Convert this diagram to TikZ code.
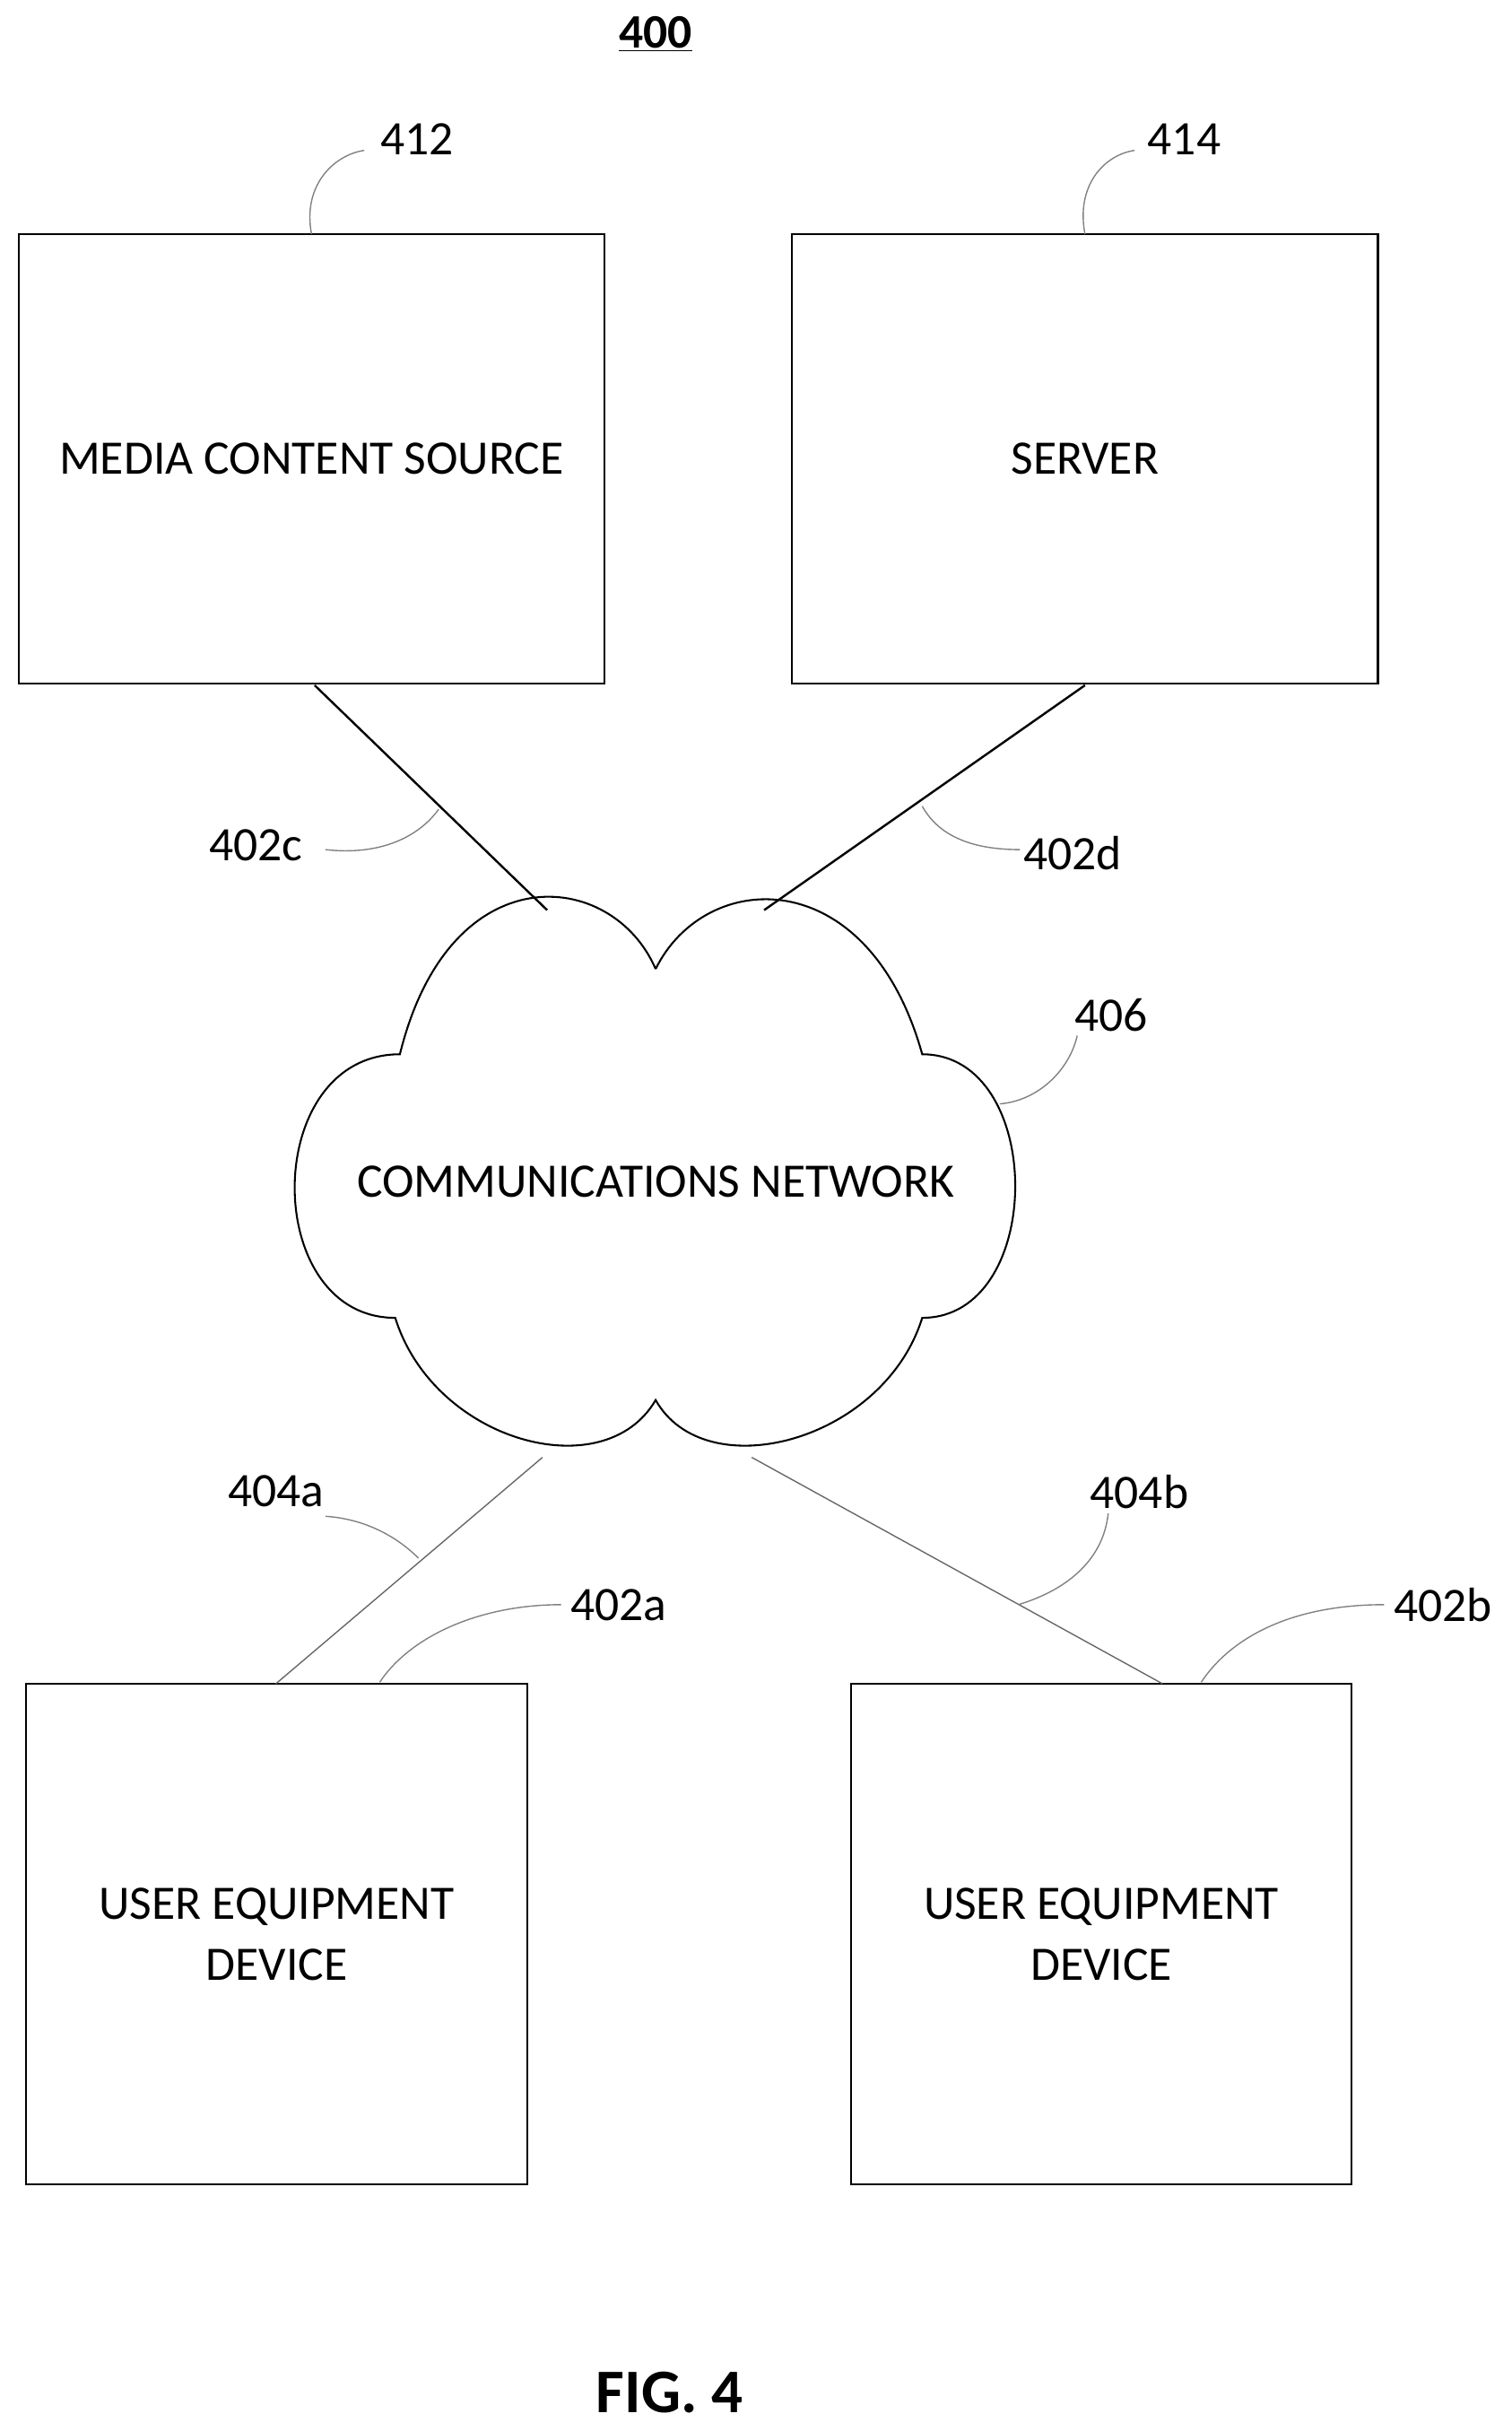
\documentclass[tikz,border=0pt]{standalone}
\usepackage{fontspec}
\setmainfont{Carlito}
\begin{document}
\begin{tikzpicture}[x=1pt,y=-1pt,
 box/.style={draw,line width=1.2pt,inner sep=0pt},
 lbl/.style={font=\fontsize{31}{39}\selectfont},
 lead/.style={draw=gray,line width=0.8pt},
 conn/.style={line width=1.4pt},
 thin/.style={draw=gray!80!black,line width=0.8pt}]
\useasboundingbox (0,0) rectangle (975,1568);
\node[font=\bfseries\fontsize{31}{36}\selectfont] (t) at (423,22) {\underline{400}};
\node[box,minimum width=378pt,minimum height=290pt,lbl] (mcs) at (201,296) {MEDIA CONTENT SOURCE};
\node[box,minimum width=378pt,minimum height=290pt,lbl] (srv) at (700,296) {SERVER};
\node[box,minimum width=323pt,minimum height=323pt,lbl,align=center] (ue1) at (178.5,1247.5) {USER EQUIPMENT\\DEVICE};
\node[box,minimum width=323pt,minimum height=323pt,lbl,align=center] (ue2) at (710.5,1247.5) {USER EQUIPMENT\\DEVICE};
\node[lbl] (net) at (423,762) {COMMUNICATIONS NETWORK};
\coordinate (ct1) at (353,587); \coordinate (ct2) at (493,587);
\coordinate (cb1) at (350,940); \coordinate (cb2) at (485,940);
\draw[line width=1.2pt] (423,625) .. controls (395,560) and (290,550) .. (258,680)
 .. controls (168,680) and (168,850) .. (255,850)
 .. controls (280,930) and (390,960) .. (423,903)
 .. controls (455,960) and (570,930) .. (595,850)
 .. controls (675,850) and (675,680) .. (595,680)
 .. controls (560,555) and (455,560) .. (423,625);
\draw[conn] (203,442) -- (ct1);
\draw[conn] (700,442) -- (ct2);
\draw[thin] (cb1) -- (178,1086);
\draw[thin] (cb2) -- (750,1086);
\node[lbl] (l412) at (269,90) {412};
\node[lbl] (l414) at (764,90) {414};
\node[lbl] (l402c) at (165,545) {402c};
\node[lbl] (l402d) at (692,550) {402d};
\node[lbl] (l406) at (717,655) {406};
\node[lbl] (l404a) at (178,962) {404a};
\node[lbl] (l404b) at (735,962) {404b};
\node[lbl] (l402a) at (399,1035) {402a};
\node[lbl] (l402b) at (931,1035) {402b};
\draw[lead] (201,151) .. controls (195,120) and (215,100) .. (235,97);
\draw[lead] (700,151) .. controls (694,120) and (712,100) .. (732,97);
\draw[lead] (210,548) .. controls (245,552) and (270,540) .. (283,522);
\draw[lead] (658,548) .. controls (625,548) and (605,538) .. (595,520);
\draw[lead] (645,712) .. controls (670,710) and (690,690) .. (695,668);
\draw[lead] (210,978) .. controls (240,980) and (260,995) .. (270,1005);
\draw[lead] (715,976) .. controls (712,1005) and (690,1025) .. (657,1035);
\draw[lead] (362,1035) .. controls (310,1035) and (265,1055) .. (245,1085);
\draw[lead] (893,1035) .. controls (835,1035) and (795,1055) .. (775,1085);
\node[font=\bfseries\fontsize{40}{46}\selectfont] (fig) at (432,1543) {FIG. 4};
\end{tikzpicture}
\end{document}
